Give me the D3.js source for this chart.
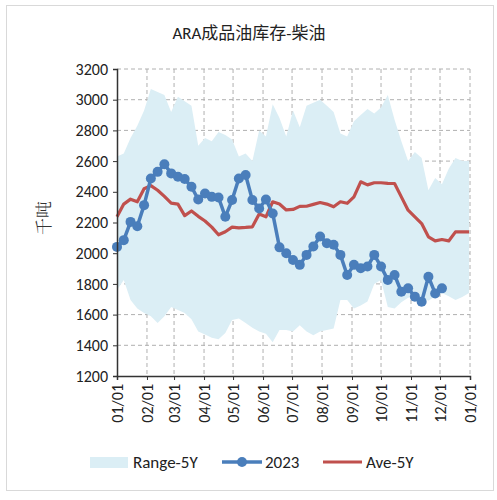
<!DOCTYPE html>
<html>
<head>
<meta charset="utf-8">
<script src="https://cdn.jsdelivr.net/npm/d3@7"></script>
<style>
  body { margin: 0; background: white; }
  text { font-family: Carlito, "Liberation Sans", "Noto Sans CJK SC", sans-serif; }
</style>
</head>
<body>
<div id="viz_area"></div>
<script>
var width = 497
var height = 500

// weekly values, week 0 = 01/01
var rangeHigh = [2630, 2650, 2750, 2830, 2930, 3070, 3050, 3030, 2920, 3020,
  2990, 2960, 2700, 2750, 2730, 2790, 2770, 2740, 2630, 2650,
  2600, 2800, 2760, 2970, 2880, 2760, 2930, 2820, 2960, 2980,
  3000, 2960, 2920, 2780, 2760, 2860, 2900, 2940, 2910, 2950,
  3030, 2870, 2730, 2600, 2660, 2620, 2410, 2490, 2450, 2550,
  2620, 2600, 2600]
var rangeLow = [1760, 1825, 1695, 1640, 1610, 1590, 1545, 1590, 1650, 1630,
  1610, 1570, 1490, 1470, 1450, 1440, 1480, 1565, 1575, 1545,
  1515, 1490, 1475, 1420, 1500, 1500, 1490, 1530, 1490, 1465,
  1490, 1500, 1510, 1695, 1695, 1640, 1660, 1685, 1800, 1825,
  1650, 1640, 1680, 1710, 1715, 1715, 1690, 1720, 1740, 1720,
  1695, 1715, 1740]
var ave5Y = [2237, 2320, 2352, 2335, 2420, 2440, 2410, 2370, 2326, 2320,
  2245, 2275, 2240, 2210, 2170, 2120, 2140, 2170, 2165, 2168,
  2172, 2255, 2237, 2335, 2320, 2282, 2285, 2305, 2306, 2318,
  2330, 2320, 2302, 2335, 2325, 2367, 2465, 2445, 2459, 2459,
  2455, 2454, 2367, 2280, 2237, 2193, 2107, 2080, 2089, 2080,
  2139, 2139, 2139]
var y2023 = [2041, 2085, 2204, 2176, 2313, 2487, 2530, 2580, 2520, 2498,
  2483, 2433, 2350, 2389, 2367, 2363, 2237, 2346, 2487, 2509,
  2346, 2291, 2350, 2259, 2038, 2000, 1956, 1924, 1989, 2044,
  2109, 2065, 2055, 1989, 1858, 1924, 1902, 1913, 1989, 1913,
  1826, 1858, 1749, 1771, 1717, 1684, 1847, 1738, 1771]
var yTicks = [1200, 1400, 1600, 1800, 2000, 2200, 2400, 2600, 2800, 3000, 3200]

function weekDate(i) { return new Date(2023, 0, 1 + 7 * i) }
var monthTicks = d3.range(13).map(m => new Date(2023, m, 1))

var svg = d3.select("#viz_area")
  .append("svg")
  .attr("width", width)
  .attr("height", height)
  .style("background-color", "white")

var margin = { top: 69, right: 27, bottom: 124, left: 117 }

var scX = d3.scaleTime()
  .domain([new Date(2023, 0, 1), new Date(2024, 0, 1)])
  .range([margin.left, width - margin.right])

var scY = d3.scaleLinear()
  .domain([1200, 3200])
  .range([height - margin.bottom, margin.top])

// outer frame
svg.append("rect")
  .attr("x", 6.5).attr("y", 5.5)
  .attr("width", 487).attr("height", 485)
  .attr("fill", "none")
  .attr("stroke", "#d9d9d9")

svg.append("text")
  .attr("x", 249).attr("y", 39)
  .attr("text-anchor", "middle")
  .style("font-size", "17px")
  .attr("fill", "#222")
  .text("ARA成品油库存-柴油")

// grid
var grid = svg.append("g")
  .attr("stroke", "#b0b0b0")
  .attr("stroke-dasharray", "4,3")
grid.selectAll(".hg")
  .data(yTicks.slice(1))
  .enter().append("line")
  .attr("x1", margin.left).attr("x2", width - margin.right)
  .attr("y1", d => scY(d)).attr("y2", d => scY(d))
grid.selectAll(".vg")
  .data(monthTicks.slice(1))
  .enter().append("line")
  .attr("x1", d => scX(d)).attr("x2", d => scX(d))
  .attr("y1", margin.top).attr("y2", height - margin.bottom)

// range area
var rangeData = rangeHigh.map((h, i) => ({ date: weekDate(i), hi: h, lo: rangeLow[i] }))
svg.append("path")
  .datum(rangeData)
  .attr("fill", "#dbeef5")
  .attr("d", d3.area()
    .x(d => scX(d.date))
    .y0(d => scY(d.lo))
    .y1(d => scY(d.hi)))

// ave line
svg.append("path")
  .datum(ave5Y)
  .attr("fill", "none")
  .attr("stroke", "#c0504d")
  .attr("stroke-width", 3.2)
  .attr("stroke-linejoin", "round")
  .attr("d", d3.line().x((d, i) => scX(weekDate(i))).y(d => scY(d)))

// 2023 line + markers
svg.append("path")
  .datum(y2023)
  .attr("fill", "none")
  .attr("stroke", "#4a7ebb")
  .attr("stroke-width", 3.5)
  .attr("stroke-linejoin", "round")
  .attr("d", d3.line().x((d, i) => scX(weekDate(i))).y(d => scY(d)))
svg.append("g")
  .selectAll("circle")
  .data(y2023)
  .enter().append("circle")
  .attr("cx", (d, i) => scX(weekDate(i)))
  .attr("cy", d => scY(d))
  .attr("r", 5)
  .attr("fill", "#4a7ebb")

// axes
svg.append("g")
  .attr("transform", `translate(${margin.left},0)`)
  .call(d3.axisLeft(scY).tickValues(yTicks).tickFormat(d3.format("d")).tickSize(4).tickPadding(5))
  .call(g => g.selectAll("line").attr("stroke", "#333"))
  .call(g => g.select(".domain").attr("stroke", "#333").attr("stroke-width", 1.5))
  .call(g => g.selectAll("text").style("font-size", "16px").attr("fill", "#222"))

svg.append("g")
  .attr("transform", `translate(0,${height - margin.bottom})`)
  .call(d3.axisBottom(scX).tickValues(monthTicks).tickSize(4).tickFormat(d3.timeFormat("%m/%d")))
  .call(g => g.selectAll("line").attr("stroke", "#333"))
  .call(g => g.select(".domain").attr("stroke", "#333").attr("stroke-width", 1.5))
  .call(g => g.selectAll("text")
    .style("font-size", "16px").attr("fill", "#222")
    .attr("transform", "rotate(-90)")
    .attr("text-anchor", "end")
    .attr("x", -8).attr("y", 0).attr("dy", "0.35em"))

// y label
svg.append("text")
  .attr("transform", "translate(50,218) rotate(-90)")
  .attr("text-anchor", "middle")
  .style("font-size", "17px")
  .style("font-family", "'Noto Serif CJK SC', 'Noto Sans CJK SC', serif")
  .attr("fill", "#333")
  .text("千吨")

// legend
var lg = svg.append("g").attr("id", "legend")
lg.append("rect")
  .attr("x", 90).attr("y", 457).attr("width", 38).attr("height", 11)
  .attr("fill", "#dbeef5")
lg.append("text").attr("x", 133).attr("y", 468).style("font-size", "17px").attr("fill", "#222").text("Range-5Y")
lg.append("line").attr("x1", 222).attr("x2", 262).attr("y1", 462).attr("y2", 462)
  .attr("stroke", "#4a7ebb").attr("stroke-width", 3.5)
lg.append("circle").attr("cx", 242).attr("cy", 462).attr("r", 5).attr("fill", "#4a7ebb")
lg.append("text").attr("x", 265).attr("y", 468).style("font-size", "17px").attr("fill", "#222").text("2023")
lg.append("line").attr("x1", 323).attr("x2", 362).attr("y1", 462).attr("y2", 462)
  .attr("stroke", "#c0504d").attr("stroke-width", 3.2)
lg.append("text").attr("x", 366).attr("y", 468).style("font-size", "17px").attr("fill", "#222").text("Ave-5Y")
</script>
</body>
</html>
